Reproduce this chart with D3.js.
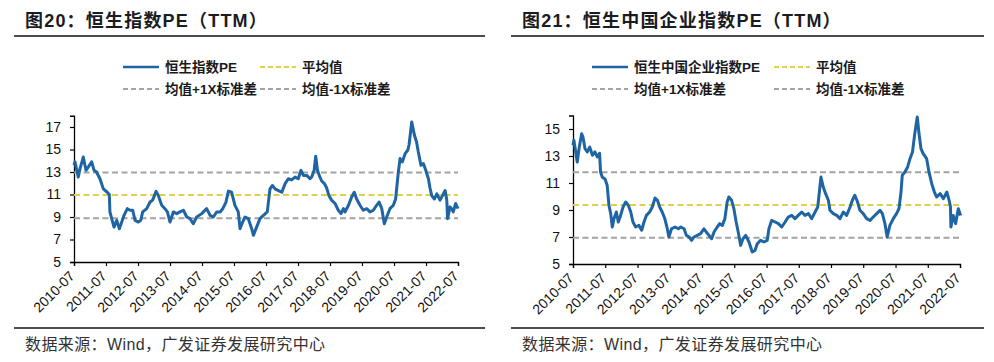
<!DOCTYPE html>
<html>
<head>
<meta charset="utf-8">
<script src="https://cdn.jsdelivr.net/npm/d3@7"></script>
<style>
  body { margin: 0; background: #fff; }
  text { font-family: "Liberation Sans", Arial, "Noto Sans CJK SC", sans-serif; }
</style>
</head>
<body>
<svg id="canvas" width="994" height="362"></svg>
<script>
// tick labels (x axis, every July)
let yearLabels = ['2010-07','2011-07','2012-07','2013-07','2014-07','2015-07','2016-07',
                  '2017-07','2018-07','2019-07','2020-07','2021-07','2022-07']

// 恒生指数PE (TTM)
let hsiDates = ['2010-07-01','2010-07-12','2010-08-19','2010-09-08','2010-10-15','2010-11-15','2010-12-12','2011-01-19','2011-02-15','2011-03-15',
  '2011-04-23','2011-06-01','2011-07-15','2011-08-08','2011-08-15','2011-09-04','2011-10-01','2011-11-01','2011-12-01','2011-12-28',
  '2012-01-23','2012-03-01','2012-04-01','2012-05-01','2012-05-28','2012-07-04','2012-08-01','2012-08-23','2012-10-08','2012-11-15',
  '2012-12-15','2013-01-23','2013-02-18','2013-03-28','2013-05-04','2013-06-01','2013-07-01','2013-08-08','2013-09-15','2013-10-23',
  '2013-12-01','2014-01-08','2014-02-15','2014-03-23','2014-05-01','2014-06-28','2014-08-23','2014-10-01','2014-11-08','2014-12-15',
  '2015-01-23','2015-02-23','2015-04-01','2015-04-28','2015-06-04','2015-07-12','2015-08-19','2015-09-08','2015-10-08','2015-11-04',
  '2015-12-12','2016-01-19','2016-02-08','2016-03-15','2016-04-23','2016-06-01','2016-07-15','2016-08-15','2016-09-12','2016-10-12',
  '2016-11-19','2016-12-28','2017-02-04','2017-03-12','2017-04-19','2017-05-28','2017-07-04','2017-08-04','2017-09-01','2017-10-08',
  '2017-11-15','2017-12-04','2018-01-01','2018-01-19','2018-02-08','2018-02-28','2018-03-28','2018-04-28','2018-05-23','2018-06-19',
  '2018-07-19','2018-08-28','2018-10-04','2018-11-04','2018-12-01','2018-12-19','2019-01-28','2019-03-04','2019-04-04','2019-05-01',
  '2019-06-08','2019-07-15','2019-08-23','2019-10-01','2019-11-08','2019-12-15','2020-01-12','2020-02-12','2020-03-12','2020-04-08',
  '2020-05-15','2020-06-23','2020-07-19','2020-08-19','2020-09-08','2020-10-04','2020-11-04','2020-12-04','2020-12-19','2021-01-19',
  '2021-02-19','2021-03-15','2021-04-04','2021-05-04','2021-06-01','2021-06-28','2021-07-28','2021-08-15','2021-09-04','2021-10-04',
  '2021-11-01','2021-12-08','2022-01-15','2022-02-04','2022-02-23','2022-03-04','2022-04-01','2022-04-19','2022-05-08','2022-06-04',
  '2022-07-01']
let hsiPE = [13.6,13.9,12.55,13.3,14.33,13.15,13.45,13.9,13.15,13.0,
  12.4,11.5,11.2,11.0,9.45,8.85,8.1,8.7,7.96,8.55,
  9.15,9.74,9.6,9.6,8.7,8.55,8.7,9.45,9.74,10.33,
  10.5,11.28,10.9,10.04,9.74,9.45,8.55,9.45,9.3,9.45,
  9.6,9.0,8.85,8.4,9.0,9.3,9.74,9.15,9.0,9.45,
  9.45,9.74,10.33,11.3,11.2,10.04,9.45,7.96,8.55,9.0,
  8.85,7.96,7.37,8.1,8.85,9.15,9.45,11.5,11.8,11.5,
  11.35,11.2,11.97,12.4,12.3,12.55,12.4,13.15,12.7,12.7,
  12.4,12.55,13.15,14.4,13.15,12.7,12.2,11.97,11.6,10.9,
  10.5,10.2,9.6,9.3,9.74,9.45,10.04,10.75,11.2,10.6,
  10.04,9.6,9.74,9.45,9.6,10.04,10.33,9.74,8.4,9.0,
  9.74,10.04,10.6,13.0,14.2,13.9,14.63,14.93,15.4,17.44,
  16.26,15.67,14.78,13.6,13.75,13.15,12.4,11.6,10.9,10.6,
  11.05,10.5,11.05,11.35,10.5,8.85,9.9,9.74,9.45,10.2,
  9.74]
// 平均值, 均值+1X标准差, 均值-1X标准差
let hsiBands = [10.95, 12.95, 8.9]

// 恒生中国企业指数PE (TTM)
let hsceiDates = ['2010-07-01','2010-07-11','2010-08-18','2010-09-07','2010-10-07','2010-10-22','2010-11-14','2010-12-10','2011-01-06','2011-02-06',
  '2011-03-06','2011-04-02','2011-04-28','2011-05-09','2011-05-28','2011-06-28','2011-07-23','2011-08-12','2011-09-01','2011-09-19',
  '2011-10-08','2011-11-04','2011-11-26','2011-12-22','2012-01-19','2012-02-18','2012-03-19','2012-04-15','2012-05-10','2012-06-10',
  '2012-07-17','2012-08-17','2012-09-12','2012-10-09','2012-11-15','2012-12-15','2013-01-15','2013-02-12','2013-03-08','2013-04-06',
  '2013-05-06','2013-06-03','2013-06-21','2013-07-21','2013-08-29','2013-10-06','2013-11-02','2013-12-10','2014-01-05','2014-02-05',
  '2014-03-05','2014-04-01','2014-05-08','2014-06-15','2014-07-23','2014-08-18','2014-09-18','2014-10-18','2014-11-14','2014-12-21',
  '2015-01-18','2015-02-17','2015-03-17','2015-04-12','2015-05-01','2015-06-01','2015-06-27','2015-07-23','2015-08-15','2015-09-12',
  '2015-10-08','2015-11-08','2015-12-15','2016-01-21','2016-02-21','2016-03-18','2016-04-24','2016-06-02','2016-07-09','2016-07-28',
  '2016-08-28','2016-10-06','2016-11-12','2016-12-20','2017-01-27','2017-03-04','2017-04-12','2017-05-19','2017-06-25','2017-08-03',
  '2017-09-10','2017-10-18','2017-11-25','2018-01-02','2018-02-01','2018-02-15','2018-03-09','2018-04-04','2018-05-01','2018-06-01',
  '2018-06-19','2018-07-27','2018-09-04','2018-10-11','2018-11-18','2018-12-25','2019-02-02','2019-02-28','2019-03-28','2019-04-28',
  '2019-05-24','2019-07-01','2019-08-09','2019-09-16','2019-10-22','2019-12-01','2020-01-07','2020-02-03','2020-03-03','2020-03-28',
  '2020-04-28','2020-06-06','2020-07-12','2020-08-09','2020-09-01','2020-09-15','2020-10-15','2020-11-15','2020-12-12','2021-01-09',
  '2021-02-01','2021-02-15','2021-03-04','2021-03-22','2021-04-15','2021-05-10','2021-06-18','2021-07-15','2021-08-15','2021-09-14',
  '2021-10-10','2021-11-18','2021-12-25','2022-02-02','2022-02-28','2022-03-15','2022-03-20','2022-04-15','2022-05-12','2022-06-12',
  '2022-07-08']
let hsceiPE = [13.79,14.16,12.56,13.54,14.65,14.4,13.54,13.3,13.66,13.05,
  13.3,12.93,13.2,11.81,11.44,11.3,10.83,9.35,8.73,7.74,
  8.36,8.85,8.11,8.6,9.22,9.59,9.35,8.85,8.11,7.74,
  7.86,7.5,8.11,8.6,8.85,9.22,9.89,9.72,9.22,8.85,
  8.36,7.61,7.0,7.61,7.74,7.61,7.74,7.61,7.12,7.0,
  6.75,7.0,7.12,7.25,7.61,7.37,7.12,6.87,7.37,7.74,
  7.99,7.86,8.36,9.59,9.96,9.72,9.1,8.11,7.37,6.38,
  6.87,7.12,6.63,5.89,6.0,6.5,6.75,6.63,6.75,7.61,
  8.23,8.11,7.99,7.74,8.11,8.48,8.6,8.36,8.6,8.85,
  8.6,8.73,8.36,8.85,9.22,10.09,11.44,10.7,10.21,9.72,
  8.98,8.73,8.6,8.36,8.85,8.6,9.22,9.72,10.09,9.59,
  8.98,8.73,8.36,8.23,8.48,8.73,8.98,8.73,7.99,7.0,
  7.86,8.36,8.73,9.1,10.33,11.57,11.81,12.19,12.8,13.3,
  14.53,15.15,15.89,14.78,13.54,13.17,12.8,11.81,10.95,10.33,
  9.96,10.21,9.84,10.33,9.72,9.22,7.74,8.6,7.99,9.1,
  8.6]
let hsceiBands = [9.37, 11.79, 6.95]

let legendNames = ['平均值', '均值+1X标准差', '均值-1X标准差']
let sourceText = '数据来源：Wind，广发证券发展研究中心'

let canvas = d3.select('#canvas')
let parseDate = d3.timeParse('%Y-%m-%d')
let parseMonth = d3.timeParse('%Y-%m')

const BLUE = '#1f64a3'
const YELLOW = '#e3cf4f'
const GRAY = '#a3a3a3'

let drawPanel = (p) => {
  let g = canvas.append('g')

  // title + rules
  g.append('text').attr('x', p.titleX).attr('y', 27)
    .attr('font-size', 18).attr('font-weight', 'bold').attr('fill', '#1b1b22')
    .attr('letter-spacing', 1.2)
    .text(p.title)
  g.append('line').attr('x1', p.ruleX0).attr('x2', p.ruleX1).attr('y1', 36).attr('y2', 36)
    .attr('stroke', '#111').attr('stroke-width', 1.5)
  g.append('line').attr('x1', p.ruleX0).attr('x2', p.ruleX1).attr('y1', 328).attr('y2', 328)
    .attr('stroke', '#111').attr('stroke-width', 1.5)
  g.append('text').attr('x', p.titleX).attr('y', 350)
    .attr('font-size', 16).attr('fill', '#333').attr('letter-spacing', 0.4)
    .text(sourceText)

  let dates = p.dates.map(parseDate)
  let pts = dates.map((d, i) => [d, p.values[i]])

  let xScale = d3.scaleTime()
    .domain([parseMonth(yearLabels[0]), parseMonth(yearLabels[yearLabels.length - 1])])
    .range([p.x0, p.x1])
  let yScale = d3.scaleLinear().domain(p.yDomain).range([p.yBot, p.yTop])

  // y axis
  let yTicks = d3.range(p.yDomain[0], p.yDomain[1] + 0.01, 2)
  let yAxis = d3.axisLeft(yScale).tickValues(yTicks).tickSize(4).tickPadding(9)
  let ya = g.append('g').attr('transform', 'translate(' + p.x0 + ',0)').call(yAxis)
  ya.select('.domain').attr('stroke', '#000').attr('stroke-width', 1.3)
  ya.selectAll('.tick line').attr('stroke', '#000').attr('stroke-width', 1.2)
  ya.selectAll('.tick text').attr('font-size', 14).attr('fill', '#111')
    .attr('font-family', '"Liberation Sans", Arial, sans-serif')

  // x axis
  let xTicks = yearLabels.map(parseMonth)
  let xAxis = d3.axisBottom(xScale).tickValues(xTicks).tickSize(4)
    .tickFormat(d3.timeFormat('%Y-%m'))
  let xa = g.append('g').attr('transform', 'translate(0,' + p.yBot + ')').call(xAxis)
  xa.select('.domain').attr('stroke', '#000').attr('stroke-width', 1.3)
  xa.selectAll('.tick line').attr('stroke', '#000').attr('stroke-width', 1.2)
  xa.selectAll('.tick text')
    .attr('font-size', 14).attr('fill', '#111')
    .attr('font-family', '"Liberation Sans", Arial, sans-serif')
    .attr('text-anchor', 'end')
    .attr('dy', 0)
    .attr('y', 0)
    .attr('transform', 'translate(1,15) rotate(-45)')

  // mean / std bands, drawn up to the last data point
  let lastX = xScale(dates[dates.length - 1])
  let bandColors = [YELLOW, GRAY, GRAY]
  p.bands.forEach((v, i) => {
    g.append('line')
      .attr('x1', p.x0).attr('x2', lastX)
      .attr('y1', yScale(v)).attr('y2', yScale(v))
      .attr('stroke', bandColors[i]).attr('stroke-width', 2)
      .attr('stroke-dasharray', '6,3.5')
  })

  // series
  let line = d3.line().x(d => xScale(d[0])).y(d => yScale(d[1]))
  g.append('path').datum(pts)
    .attr('d', line)
    .attr('fill', 'none')
    .attr('stroke', BLUE)
    .attr('stroke-width', 3)
    .attr('stroke-linejoin', 'round')

  // legend
  let items = [
    {name: p.seriesName, color: BLUE, dash: null, x: p.legX0, y: 67},
    {name: legendNames[0], color: YELLOW, dash: '5,3', x: p.legX1, y: 67},
    {name: legendNames[1], color: GRAY, dash: '5,3', x: p.legX0, y: 89},
    {name: legendNames[2], color: GRAY, dash: '5,3', x: p.legX1, y: 89}
  ]
  items.forEach(it => {
    g.append('line').attr('x1', it.x).attr('x2', it.x + 36)
      .attr('y1', it.y).attr('y2', it.y)
      .attr('stroke', it.color).attr('stroke-width', it.dash ? 2 : 2.6)
      .attr('stroke-dasharray', it.dash)
    g.append('text').attr('x', it.x + 42).attr('y', it.y + 5)
      .attr('font-size', 13.5).attr('font-weight', 'bold').attr('fill', '#1a1a1a')
      .text(it.name)
  })
}

drawPanel({
  title: '图20：恒生指数PE（TTM）', seriesName: '恒生指数PE',
  titleX: 25, ruleX0: 14, ruleX1: 485,
  x0: 74, x1: 458, yBot: 262, yTop: 115.75, yDomain: [5, 18],
  dates: hsiDates, values: hsiPE, bands: hsiBands,
  legX0: 123, legX1: 260
})

drawPanel({
  title: '图21：恒生中国企业指数PE（TTM）', seriesName: '恒生中国企业指数PE',
  titleX: 522, ruleX0: 511, ruleX1: 984,
  x0: 573, x1: 960, yBot: 264, yTop: 115.5, yDomain: [5, 16],
  dates: hsceiDates, values: hsceiPE, bands: hsceiBands,
  legX0: 592, legX1: 774
})
</script>
</body>
</html>
